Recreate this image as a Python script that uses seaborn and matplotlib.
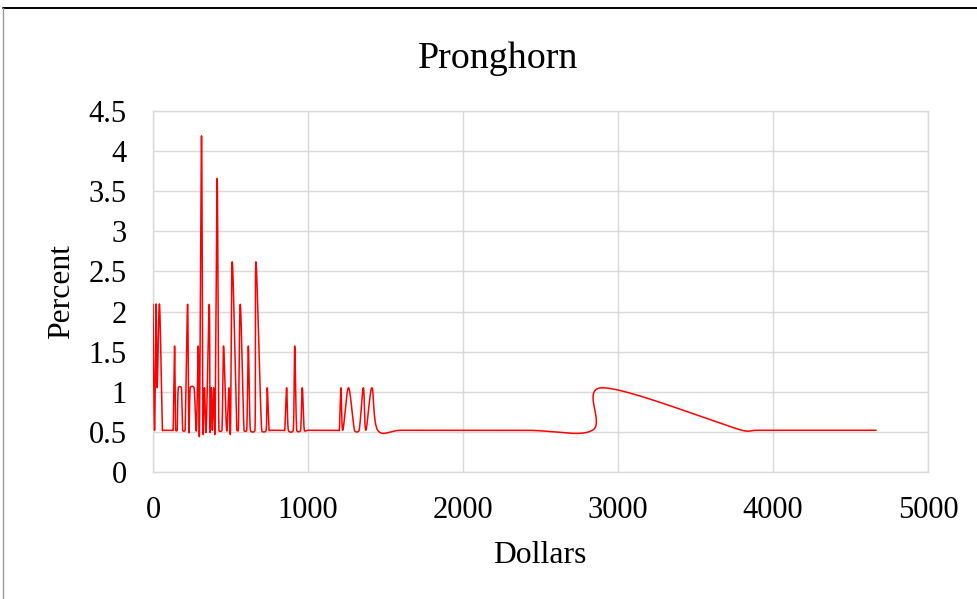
import numpy as np
import matplotlib
matplotlib.use("Agg")
import matplotlib.pyplot as plt
from matplotlib.lines import Line2D
import seaborn as sns

# ---- data ----
dollars = [0, 10, 20, 27, 42, 60, 70, 120, 130, 139, 146, 156, 163, 183, 191, 207, 223, 231,
           240, 265, 280, 292, 300, 313, 322, 332, 343, 363, 368, 376, 383, 391, 400,
           414, 425, 445, 455, 475, 490, 500, 511, 541, 551, 563, 587, 605, 615, 628,
           658, 664, 701, 730, 737, 748, 760, 840, 850, 862, 873, 905, 914, 927, 952, 963, 976,
           1000, 1190, 1202, 1213, 1224, 1261, 1300, 1330, 1357, 1373, 1412, 1450, 1600,
           2400, 2835, 2900, 3800, 3900, 4665]
percent = [2.09, 0.52, 2.09, 1.05, 2.09, 0.52, 0.52, 0.52, 0.52, 1.57, 0.52, 0.52, 1.05, 1.05, 0.52, 0.52, 2.09, 0.52,
           1.05, 1.05, 0.52, 1.57, 0.52, 4.19, 0.52, 1.05, 0.52, 2.09, 0.52, 1.05, 0.52, 1.05, 0.52,
           3.66, 0.52, 0.52, 1.57, 0.52, 1.05, 0.52, 2.62, 0.52, 0.52, 2.09, 0.52, 0.52, 1.57, 0.52,
           0.52, 2.62, 0.52, 0.52, 1.05, 0.52, 0.52, 0.52, 0.52, 1.05, 0.52, 0.52, 1.57, 0.52, 0.52, 1.05, 0.52,
           0.52, 0.52, 0.52, 1.05, 0.52, 1.05, 0.52, 0.52, 1.05, 0.52, 1.05, 0.52, 0.52,
           0.52, 0.52, 1.05, 0.52, 0.52, 0.52]

title = "Pronghorn"
x_label = "Dollars"
y_label = "Percent"
x_ticks = [0, 1000, 2000, 3000, 4000, 5000]
y_ticks = [0, 0.5, 1, 1.5, 2, 2.5, 3, 3.5, 4, 4.5]
y_tick_labels = ["0", "0.5", "1", "1.5", "2", "2.5", "3", "3.5", "4", "4.5"]

# ---- layout ----
W, H = 977, 599
L, R, T, B = 153, 928, 111, 472
XMAX, YMAX = 5000, 4.5

sns.set_style("white")
plt.rcParams["font.family"] = ["Liberation Serif", "DejaVu Serif"]
plt.rcParams["text.color"] = "black"

fig = plt.figure(figsize=(W / 100, H / 100), dpi=100)
ax = fig.add_axes([L / W, 1 - B / H, (R - L) / W, (B - T) / H])


def excel_smooth(xs, ys, sx, sy, n=60):
    """Excel-like smoothed scatter line (Bezier with capped control points)."""
    P = np.column_stack([np.asarray(xs, float) * sx, np.asarray(ys, float) * sy])
    out = [P[0]]
    t = np.linspace(0, 1, n)[1:]
    for i in range(len(P) - 1):
        p0 = P[i - 1] if i > 0 else P[i]
        p1, p2 = P[i], P[i + 1]
        p3 = P[i + 2] if i + 2 < len(P) else P[i + 1]
        d02 = np.linalg.norm(p2 - p0)
        d12 = np.linalg.norm(p2 - p1)
        d13 = np.linalg.norm(p3 - p1)
        f1 = 1 / 6 if d02 / 6 < d12 / 2 else (d12 / 2 / d02 if d02 > 0 else 0)
        f2 = 1 / 6 if d13 / 6 < d12 / 2 else (d12 / 2 / d13 if d13 > 0 else 0)
        b1 = p1 + (p2 - p0) * f1
        b2 = p2 - (p3 - p1) * f2
        seg = (((1 - t) ** 3)[:, None] * p1 + (3 * (1 - t) ** 2 * t)[:, None] * b1
               + (3 * (1 - t) * t ** 2)[:, None] * b2 + (t ** 3)[:, None] * p2)
        out.extend(seg)
    out = np.array(out)
    return out[:, 0] / sx, out[:, 1] / sy


sx = (R - L) / XMAX
sy = (B - T) / YMAX
cx, cy = excel_smooth(dollars, percent, sx, sy)

sns.lineplot(x=cx, y=cy, sort=False, estimator=None, color="#ff0000",
             linewidth=1.1, ax=ax, zorder=3)

ax.set_xlim(0, XMAX)
ax.set_ylim(0, YMAX)
ax.set_xticks(x_ticks)
ax.set_yticks(y_ticks)
ax.set_yticklabels(y_tick_labels)
ax.set_xticklabels([str(v) for v in x_ticks])
ax.tick_params(axis="both", length=0, labelsize=22, colors="black")
ax.tick_params(axis="x", pad=17)
ax.tick_params(axis="y", pad=19)
ax.grid(True, color="#d9d9d9", linewidth=1.0)
ax.set_axisbelow(True)
for s in ax.spines.values():
    s.set_color("#d9d9d9")
    s.set_linewidth(1.0)
ax.set_xlabel("")
ax.set_ylabel("")

fig.text(498 / W, 1 - 67.5 / H, title, ha="center", va="baseline", fontsize=27.4,
         color="black")
fig.text(540 / W, 1 - 563 / H, x_label, ha="center", va="baseline", fontsize=22.8,
         color="black")
fig.text(62 / W, 1 - 291.5 / H, y_label, ha="center", va="center", rotation=90,
         fontsize=22.8, color="black")

# chart-area border
fig.add_artist(Line2D([3 / W, 1], [1 - 8 / H, 1 - 8 / H], color="black", lw=1.4,
                      transform=fig.transFigure))
fig.add_artist(Line2D([3 / W, 3 / W], [0, 1 - 8 / H], color="#9a9a9a", lw=1.0,
                      transform=fig.transFigure))

fig.savefig("out.png", dpi=100)
